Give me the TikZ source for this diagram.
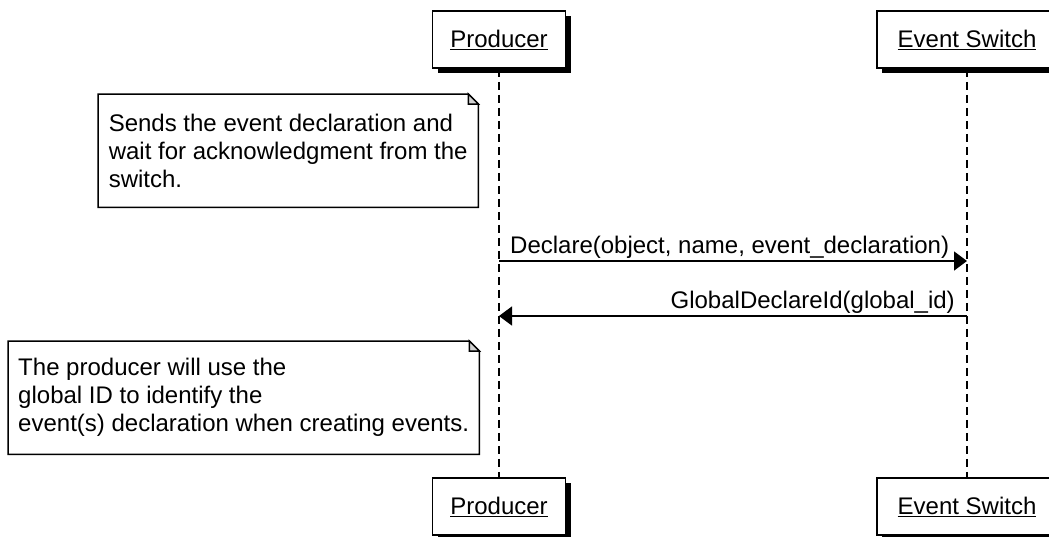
\documentclass[tikz,border=0pt]{standalone}
\usepackage{fontspec}
\setmainfont{Liberation Sans}
\usepackage{tikz}
\usetikzlibrary{positioning,calc,arrows.meta,shadows,backgrounds}

% khung ghi chu co goc gap
\newcommand{\notefold}[1]{%
  \draw[noteline] (#1.north west) -- ([xshift=-10pt]#1.north east)
    -- ([yshift=-10pt]#1.north east) -- (#1.south east) -- (#1.south west) -- cycle;
  \draw[noteline, fill=gray!35] ([xshift=-10pt]#1.north east)
    -- ([xshift=-10pt, yshift=-10pt]#1.north east) -- ([yshift=-10pt]#1.north east) -- cycle;
}

\begin{document}
\begin{tikzpicture}[x=1pt, y=-1pt,
    every node/.style={font=\fontsize{24}{28}\selectfont},
    actor/.style={draw, line width=1.5pt, fill=white, minimum height=57pt, inner xsep=17pt,
      drop shadow={shadow xshift=5pt, shadow yshift=-5pt, fill=black, opacity=1}},
    lifeline/.style={line width=1.5pt, dash pattern=on 8pt off 5pt},
    notebox/.style={align=left, inner sep=0pt, anchor=north west, minimum height=113pt},
    noteline/.style={line width=1.5pt},
    msg/.style={line width=1.5pt, -{Triangle[length=13pt, width=19pt]}},
    msglabel/.style={inner sep=0pt}]
  \useasboundingbox (0,0) rectangle (1049,536);
  \clip (0,0) rectangle (1049,536);

  % --- CAC DOI TUONG (tren va duoi) ---
  \foreach \n/\x/\w/\t in {prod/499/133/Producer, evsw/967/180/Event Switch} {
    \node[actor, minimum width=\w pt] (\n Top) at (\x,39.5) {\underline{\t}};
    \node[actor, minimum width=\w pt] (\n Bot) at (\x,506.5) {\underline{\t}};
    \begin{scope}[on background layer]
      \draw[lifeline] (\n Top) -- (\n Bot);
    \end{scope}
  }

  % --- GHI CHU ---
  \node[notebox, minimum width=380pt] (note1) at (98,94)
    {Sends the event declaration and\\wait for acknowledgment from the\\switch.};
  \notefold{note1}
  \node[notebox, minimum width=471pt] (note2) at (8,341)
    {The producer will use the\\global ID to identify the\\event(s) declaration when creating events.};
  \notefold{note2}

  % --- THONG DIEP ---
  \coordinate (m1a) at (prodTop |- 0,261);
  \coordinate (m1b) at (evswTop |- 0,261);
  \draw[msg] (m1a) -- (m1b);
  \node[msglabel, anchor=base west] (lbl1) at ([xshift=11pt, yshift=8pt]m1a)
    {Declare(object, name, event\_declaration)};

  \coordinate (m2a) at (evswTop |- 0,316);
  \coordinate (m2b) at (prodTop |- 0,316);
  \draw[msg] (m2a) -- (m2b);
  \node[msglabel, anchor=base east] (lbl2) at ([xshift=-12pt, yshift=8pt]m2a)
    {GlobalDeclareId(global\_id)};
\end{tikzpicture}
\end{document}
